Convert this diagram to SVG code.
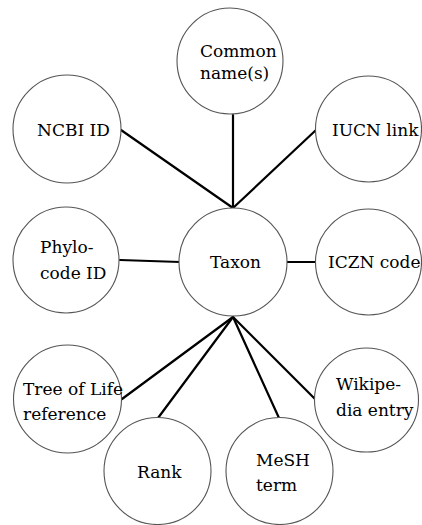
<svg xmlns="http://www.w3.org/2000/svg" width="422" height="525" viewBox="0 0 422 525">
<style>
.n{fill:#fff;stroke:#555;stroke-width:1.1}
.t{font-family:"DejaVu Serif","Liberation Serif",serif;font-size:17px;fill:#000}
.c{stroke:#000;stroke-width:2.2;fill:none;stroke-linecap:round}
</style>
<rect width="422" height="525" fill="#fff"/>
<g id="connectors">
<line class="c" x1="233" y1="115" x2="233" y2="208"/>
<line class="c" x1="121" y1="130" x2="233" y2="208"/>
<line class="c" x1="316" y1="130" x2="233" y2="208"/>
<line class="c" x1="120" y1="260" x2="180" y2="262"/>
<line class="c" x1="287" y1="262" x2="316" y2="262"/>
<line class="c" x1="122" y1="399" x2="233" y2="317"/>
<line class="c" x1="158" y1="418" x2="233" y2="317"/>
<line class="c" x1="279" y1="418" x2="233" y2="317"/>
<line class="c" x1="315" y1="399" x2="233" y2="317"/>
</g>
<g id="common"><circle class="n" cx="230" cy="61" r="53"/><text class="t" x="200" y="57">Common</text><text class="t" x="200" y="79">name(s)</text></g>
<g id="ncbi"><circle class="n" cx="67" cy="129" r="54"/><text class="t" x="37" y="136">NCBI ID</text></g>
<g id="iucn"><circle class="n" cx="368.5" cy="129" r="53"/><text class="t" x="332" y="136">IUCN link</text></g>
<g id="phylo"><circle class="n" cx="66" cy="260" r="53"/><text class="t" x="40" y="253">Phylo-</text><text class="t" x="40" y="279">code ID</text></g>
<g id="taxon"><circle class="n" cx="233" cy="262" r="54"/><text class="t" x="210" y="268">Taxon</text></g>
<g id="iczn"><circle class="n" cx="368.5" cy="262" r="53"/><text class="t" x="328" y="268">ICZN code</text></g>
<g id="tol"><circle class="n" cx="67.5" cy="399" r="54"/><text class="t" x="23" y="395">Tree of Life</text><text class="t" x="23" y="420">reference</text></g>
<g id="rank"><circle class="n" cx="157.5" cy="471" r="53.5"/><text class="t" x="137" y="478">Rank</text></g>
<g id="mesh"><circle class="n" cx="279.5" cy="471" r="53.5"/><text class="t" x="256" y="466">MeSH</text><text class="t" x="256" y="491">term</text></g>
<g id="wiki"><circle class="n" cx="366.5" cy="400" r="52"/><text class="t" x="336" y="390">Wikipe-</text><text class="t" x="336" y="416">dia entry</text></g>
</svg>
